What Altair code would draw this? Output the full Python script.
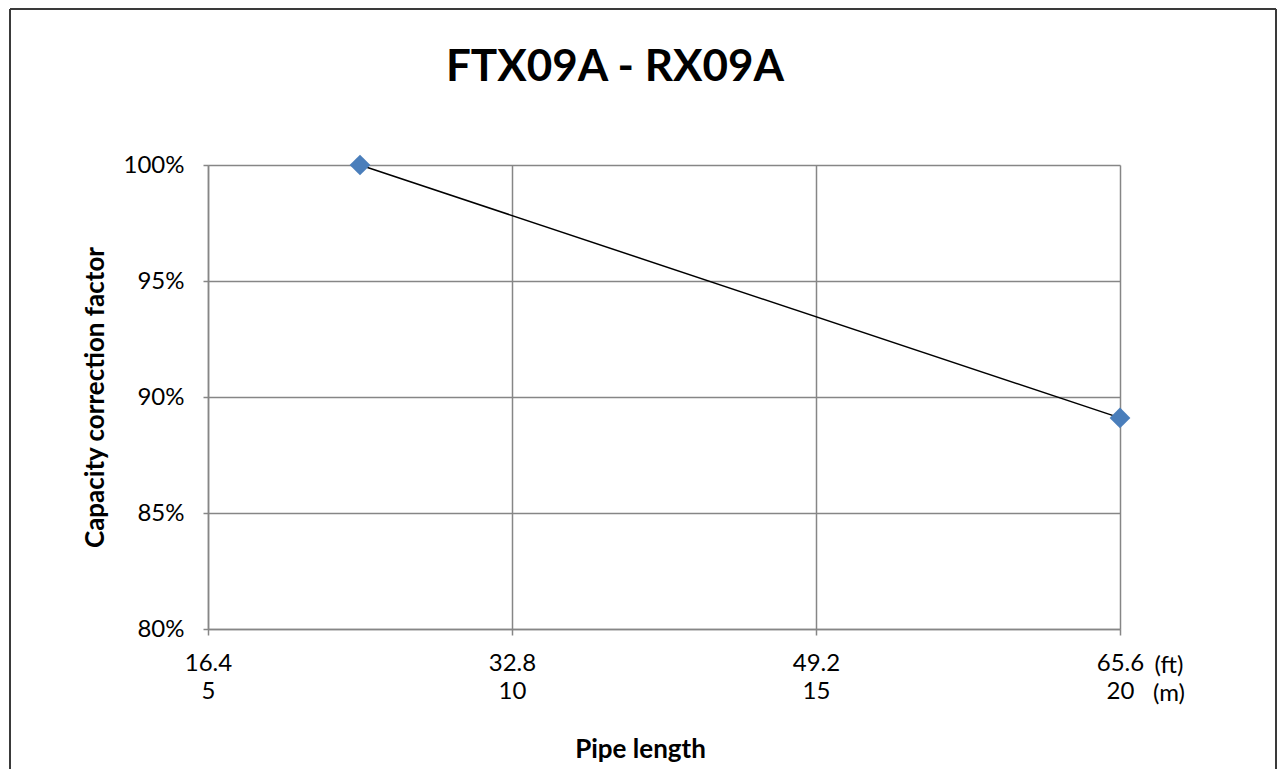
import altair as alt
import pandas as pd

# data
length_m = [7.5, 20]
factor = [1.00, 0.891]
tick_m = [5, 10, 15, 20]
tick_ft = ["16.4", "32.8", "49.2", "65.6"]
y_ticks = [0.80, 0.85, 0.90, 0.95, 1.00]
chart_title = "FTX09A - RX09A"
unit_label = "(ft)\n(m)"

df = pd.DataFrame({"m": length_m, "f": factor})
unit_df = pd.DataFrame({"m": [tick_m[-1]], "f": [y_ticks[0]], "t": [unit_label]})

FONT = "Lato"
W, H = 912, 464
PAD_L, PAD_T, PAD_R, PAD_B = 200, 157, 158, 140

pairs = ",".join(f"['{ft}','{m}']" for m, ft in zip(tick_m, tick_ft))
label_expr = f"[{pairs}][indexof([{','.join(str(m) for m in tick_m)}], datum.value)]"

x_scale = alt.Scale(domain=[tick_m[0], tick_m[-1]], nice=False, zero=False)
y_scale = alt.Scale(domain=[y_ticks[0], y_ticks[-1]], nice=False, zero=False)

x_enc = alt.X(
    "m:Q", scale=x_scale,
    axis=alt.Axis(
        values=tick_m, labelExpr=label_expr, title="Pipe length",
        titleX=432, titleY=120, titleBaseline="middle", titleAlign="center",
        labelPadding=16, labelLineHeight=28, tickSize=6, labelFlush=False,
        labelAlign="center",
    ),
)
y_enc = alt.Y(
    "f:Q", scale=y_scale,
    axis=alt.Axis(
        values=y_ticks, format=".0%", title="Capacity correction factor",
        titleX=-113, titleY=232, titleAngle=-90, titleBaseline="middle",
        titleAlign="center", labelPadding=19, tickSize=5, labelFlush=False,
    ),
)

line = alt.Chart(df).mark_line(color="black", strokeWidth=1.5).encode(x=x_enc, y=y_enc)
pts = alt.Chart(df).mark_point(
    shape="diamond", filled=True, size=430, color="#4a7ebb", opacity=1
).encode(x="m:Q", y="f:Q")

units = alt.Chart(unit_df).mark_text(
    font=FONT, fontSize=24, align="center", baseline="top", dx=49, dy=25,
    lineBreak="\n", lineHeight=28, color="black",
).encode(x="m:Q", y="f:Q", text="t:N")

title_df = pd.DataFrame({"t": [chart_title]})
title_mark = alt.Chart(title_df).mark_text(
    font=FONT, fontSize=44, fontWeight="bold", color="black",
    align="center", baseline="middle",
).encode(x=alt.value(407), y=alt.value(-97), text="t:N")

BC = "#3a3a3a"
left_b = alt.Chart(title_df).mark_rule(color=BC, strokeWidth=2).encode(
    x=alt.value(-198), y=alt.value(-156), y2=alt.value(H + PAD_B)
)
right_b = alt.Chart(title_df).mark_rule(color=BC, strokeWidth=2).encode(
    x=alt.value(W + PAD_R - 2), y=alt.value(-156), y2=alt.value(H + PAD_B)
)
top_b = alt.Chart(title_df).mark_rule(color=BC, strokeWidth=2).encode(
    x=alt.value(-198), x2=alt.value(W + PAD_R - 2), y=alt.value(-156)
)

chart = (
    alt.layer(left_b, right_b, top_b, line, pts, units, title_mark)
    .properties(
        width=W, height=H,
        autosize=alt.AutoSizeParams(type="none"),
        padding={"left": PAD_L, "top": PAD_T, "right": PAD_R, "bottom": PAD_B},
    )
    .configure_view(stroke=None)
    .configure_axis(
        labelFont=FONT, labelFontSize=24, labelColor="black",
        titleFont=FONT, titleFontSize=26, titleFontWeight="bold", titleColor="black",
        gridColor="#868686", gridWidth=1.5, gridOpacity=1,
        domainColor="#868686", domainWidth=1.5,
        tickColor="#868686", tickWidth=1.5,
    )
)

chart.save("out.html", embed_options={"renderer": "svg", "actions": False})
